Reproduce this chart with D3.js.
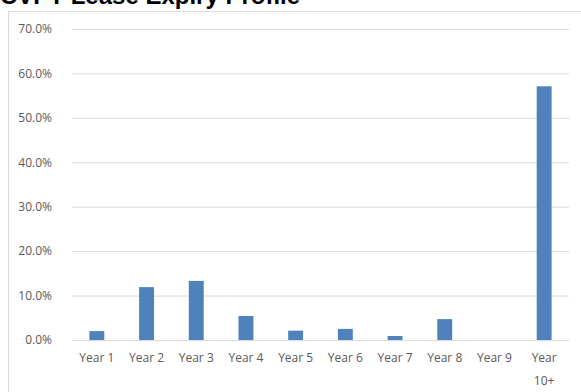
<!DOCTYPE html>
<html>
<head>
<meta charset="utf-8">
<script src="https://cdn.jsdelivr.net/npm/d3@7"></script>
<style>
  body { margin: 0; background: #fff; }
  svg { display: block; }
</style>
</head>
<body>
<div id="chart"></div>
<script>
const categories = ["Year 1", "Year 2", "Year 3", "Year 4", "Year 5", "Year 6", "Year 7", "Year 8", "Year 9", "Year 10+"]
const values = [2.0, 11.9, 13.3, 5.4, 2.1, 2.5, 0.9, 4.7, 0, 57.1]
const yTicks = [0, 10, 20, 30, 40, 50, 60, 70]

const width = 581
const height = 392
const margin = { top: 29, right: 12, bottom: 52, left: 72 }

const svg = d3.select('#chart')
  .append('svg')
  .attr('width', width)
  .attr('height', height)

// title, cut off at the top like the original
svg.append('text')
  .text('CVPT Lease Expiry Profile')
  .attr('x', 0)
  .attr('y', 4)
  .attr('font-family', 'Liberation Sans, Arial, sans-serif')
  .attr('font-weight', 'bold')
  .attr('font-size', 24)
  .attr('fill', '#000')

// chart area border
svg.append('rect')
  .attr('x', 8.5)
  .attr('y', 11.5)
  .attr('width', 600)
  .attr('height', 400)
  .attr('fill', 'none')
  .attr('stroke', '#d9d9d9')

const xScale = d3.scaleBand()
  .domain(categories)
  .range([margin.left, width - margin.right])
  .paddingInner(0.7)
  .paddingOuter(0.35)

const yScale = d3.scaleLinear()
  .domain([0, 70])
  .range([height - margin.bottom, margin.top])

// gridlines
const yAxis = d3.axisLeft(yScale)
  .tickValues(yTicks)
  .tickSize(-(width - margin.right - margin.left))
  .tickFormat(d => d.toFixed(1) + '%')
  .tickPadding(20)

const gy = svg.append('g')
  .attr('transform', `translate(${margin.left},0)`)
  .call(yAxis)
gy.select('.domain').remove()
gy.selectAll('line').attr('stroke', '#d9d9d9')
gy.selectAll('text')
  .attr('fill', '#595959')
  .attr('font-family', 'Open Sans, sans-serif')
  .attr('font-size', 12)

svg.selectAll('.bar')
  .data(categories)
  .join('rect')
  .attr('class', 'bar')
  .attr('x', d => xScale(d))
  .attr('y', (d, i) => yScale(values[i]))
  .attr('width', xScale.bandwidth())
  .attr('height', (d, i) => yScale(0) - yScale(values[i]))
  .attr('fill', '#4f81bd')

// category labels (wrap "Year 10+")
const labels = svg.append('g')
  .selectAll('text')
  .data(categories)
  .join('text')
  .attr('x', d => xScale(d) + xScale.bandwidth() / 2)
  .attr('y', height - margin.bottom + 22)
  .attr('text-anchor', 'middle')
  .attr('fill', '#595959')
  .attr('font-family', 'Open Sans, sans-serif')
  .attr('font-size', 12)

labels.each(function (d) {
  const t = d3.select(this)
  const parts = d === 'Year 10+' ? ['Year', '10+'] : [d]
  parts.forEach((p, i) => {
    t.append('tspan')
      .attr('x', xScale(d) + xScale.bandwidth() / 2)
      .attr('dy', i === 0 ? 0 : 23)
      .text(p)
  })
})
</script>
</body>
</html>
